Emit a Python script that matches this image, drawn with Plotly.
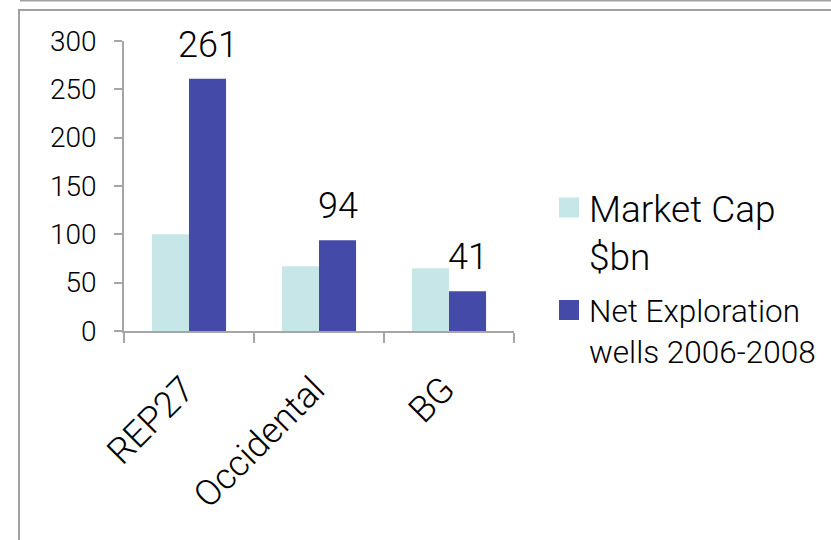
import plotly.graph_objects as go

# ---- data ----
categories = ["REP27", "Occidental", "BG"]
market_cap = [100, 67, 65]
net_wells = [261, 94, 41]
series_names = ["Market Cap<br>$bn", "Net Exploration<br>wells 2006-2008"]
y_ticks = [0, 50, 100, 150, 200, 250, 300]

# ---- style ----
LIGHT = "#C6E6E8"
DARK = "#444AA8"
AXIS = "#A6A6A6"
FRAME = "#A0A0A0"
FONT = "Roboto, Liberation Sans, Arial, sans-serif"
WEIGHT = 300

W, H = 831, 540
L, R, T, B = 124, 514, 41, 331


def px(x):
    return (x - L) / (R - L)


def py(y):
    return (B - y) / (B - T)


fig = go.Figure()
fig.add_bar(x=categories, y=market_cap, name=series_names[0],
            marker=dict(color=LIGHT, line_width=0), showlegend=False)
fig.add_bar(x=categories, y=net_wells, name=series_names[1],
            marker=dict(color=DARK, line_width=0), showlegend=False)

# legend entries (larger swatches)
fig.add_scatter(x=[None], y=[None], mode="markers", name=series_names[0],
                marker=dict(symbol="square", size=16, color=LIGHT,
                            line=dict(color=LIGHT, width=4)),
                legend="legend")
fig.add_scatter(x=[None], y=[None], mode="markers", name=series_names[1],
                marker=dict(symbol="square", size=16, color=DARK,
                            line=dict(color=DARK, width=4)),
                legend="legend2")

for c, v in zip(categories, net_wells):
    fig.add_annotation(x=c, y=v, text=str(v), showarrow=False,
                       xshift=18.5, yshift=11, yanchor="bottom",
                       font=dict(size=36, color="black", family=FONT,
                                 weight=WEIGHT))

# frame lines
fig.add_shape(type="rect", xref="paper", yref="paper",
              x0=px(19), x1=px(845), y0=py(560), y1=py(10),
              line=dict(color=FRAME, width=2), fillcolor="rgba(0,0,0,0)")
fig.add_shape(type="line", xref="paper", yref="paper",
              x0=px(20), x1=px(845), y0=py(0.5), y1=py(0.5),
              line=dict(color=FRAME, width=2))

fig.update_layout(
    width=W, height=H,
    margin=dict(l=L, r=W - R, t=T, b=H - B, autoexpand=False),
    paper_bgcolor="white", plot_bgcolor="white",
    font=dict(family=FONT, color="black", weight=WEIGHT),
    barmode="group", bargap=0.43, bargroupgap=0,
    legend=dict(x=px(549), y=py(177), xanchor="left", yanchor="top",
                valign="top", bgcolor="rgba(0,0,0,0)",
                font=dict(size=37, family=FONT, weight=WEIGHT)),
    legend2=dict(x=px(549), y=py(283), xanchor="left", yanchor="top",
                 valign="top", bgcolor="rgba(0,0,0,0)",
                 font=dict(size=31.5, family=FONT, weight=WEIGHT)),
    xaxis=dict(showline=True, linecolor=AXIS, linewidth=1.5,
               ticks="outside", tickson="boundaries", ticklen=10,
               tickcolor=AXIS, tickwidth=1.5, tickangle=-45,
               tickfont=dict(size=36, weight=WEIGHT), showgrid=False,
               ticklabelstandoff=21, ticklabelshift=-5),
    yaxis=dict(range=[0, 300], tickvals=y_ticks, showline=True,
               linecolor=AXIS, linewidth=1.5, ticks="outside", ticklen=8,
               tickcolor=AXIS, tickwidth=1.5,
               tickfont=dict(size=28, weight=WEIGHT),
               showgrid=False, zeroline=False, ticklabelstandoff=12),
)

fig.write_html("out.html", config={"displayModeBar": False},
               post_script="document.body.style.margin='0';")
